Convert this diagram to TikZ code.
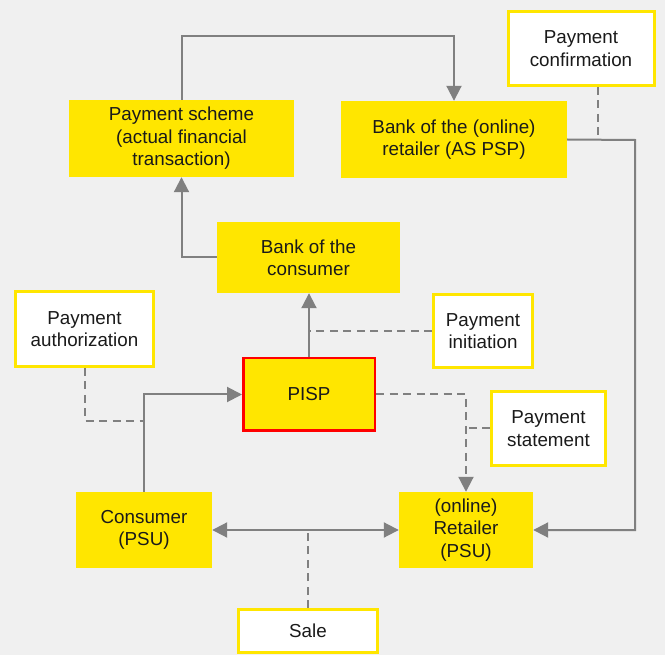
\documentclass[tikz,border=0pt]{standalone}
\usepackage{fontspec}
\setmainfont{Liberation Sans}
\usetikzlibrary{arrows.meta}

\definecolor{eyyellow}{HTML}{FFE600}
\definecolor{bggray}{HTML}{F0F0F0}
\definecolor{linegray}{HTML}{808080}
\definecolor{txt}{HTML}{1A1A1A}

\begin{document}
\begin{tikzpicture}[x=1pt,y=-1pt,
  every node/.style={font=\fontsize{18.8}{22.4}\selectfont, text=txt, align=center, inner sep=0pt},
  actor/.style={fill=eyyellow, draw=none},
  msg/.style={fill=white, draw=eyyellow, line width=3pt},
  hub/.style={fill=eyyellow, draw=red, line width=2.5pt},
  conn/.style={draw=linegray, line width=2pt},
  tip/.style={-{Triangle[length=15pt,width=15pt]}},
  flow/.style={conn, tip},
  dflow/.style={conn, dash pattern=on 8pt off 5.5pt}
]
% canvas
\fill[bggray] (0,0) rectangle (665,655);
\useasboundingbox (0,0) rectangle (665,655);

% yellow parties
\node[actor, minimum width=225pt, minimum height=77pt] (ps) at (181.5,138.5) {Payment scheme\\(actual financial\\transaction)};
\node[actor, minimum width=226pt, minimum height=77pt] (bret) at (454,139.5) {Bank of the (online)\\retailer (AS PSP)};
\node[actor, minimum width=183pt, minimum height=71pt] (bcon) at (308.5,257.5) {Bank of the\\consumer};
\node[hub, minimum width=131.5pt, minimum height=72.5pt] (pisp) at (309,394.5) {PISP};
\node[actor, minimum width=136pt, minimum height=76pt] (cons) at (144,530) {Consumer\\(PSU)};
\node[actor, minimum width=134pt, minimum height=76pt] (ret) at (466,530) {(online)\\Retailer\\(PSU)};

% white message labels
\node[msg, minimum width=146pt, minimum height=74pt] (pconf) at (581,48.5) {Payment\\confirmation};
\node[msg, minimum width=138pt, minimum height=75pt] (pauth) at (84.5,329) {Payment\\authorization};
\node[msg, minimum width=99pt, minimum height=73pt] (pinit) at (483,331) {Payment\\initiation};
\node[msg, minimum width=114pt, minimum height=74pt] (pstat) at (548.5,428.5) {Payment\\statement};
\node[msg, minimum width=139pt, minimum height=43pt] (sale) at (308,631) {Sale};

% helper coordinates for bends
\coordinate (ytop) at (0,36);
\coordinate (rail) at (635,140);
\coordinate (authbend) at (0,421);
\coordinate (confx) at (598,0);

% solid flows
\draw[flow] (ps.north) -- (ps.north |- ytop) -| (bret.north);
\draw[flow] (bcon.west) -| (ps.south);
\draw[flow] (pisp.north) -- (pisp.north |- bcon.south);
\draw[flow] (cons.north) |- (pisp.west);
\draw[flow] (bret.east) -- (rail) |- (ret.east);
\draw[conn, {Triangle[length=15pt,width=15pt]}-{Triangle[length=15pt,width=15pt]}] (cons.east) -- (ret.west);

% dashed message links
\draw[dflow] (pinit.west) -- (pisp.north |- pinit.west);
\draw[dflow] (pauth.south) |- (cons.north |- authbend);
\draw[dflow, tip] (pisp.east) -| (ret.north);
\draw[dflow] (pstat.west) -- (ret.north |- pstat.west);
\draw[dflow] (confx |- pconf.south) -- (confx |- rail);
\draw[dflow] (sale.north) -- (sale.north |- cons.east);
\end{tikzpicture}
\end{document}
